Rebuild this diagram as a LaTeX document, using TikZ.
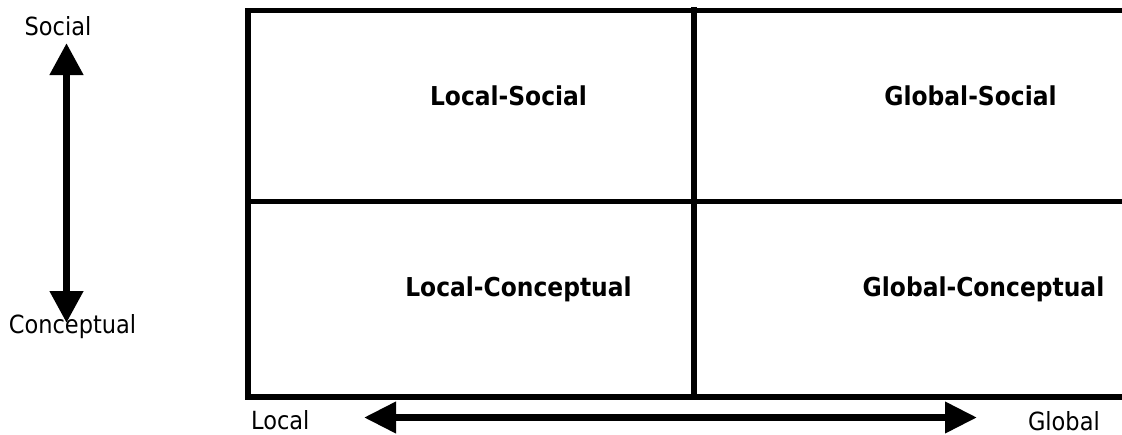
\documentclass[tikz,border=0pt]{standalone}
\usepackage{fontspec}
\setmainfont{DejaVu Sans Condensed}
\usetikzlibrary{arrows.meta}

\begin{document}
\begin{tikzpicture}
  [x=1pt,y=-1pt,
   grid/.style={line width=5.5pt},
   axis/.style={line width=7.5pt,
     {Triangle[length=32pt,width=32pt]}-{Triangle[length=32pt,width=32pt]}},
   cell/.style={font=\bfseries\fontsize{26}{30}\selectfont,inner sep=0pt,anchor=base},
   axlabel/.style={font=\fontsize{25}{30}\selectfont,inner sep=0pt,anchor=base}]
  \useasboundingbox (0,0) rectangle (1122,434);

  % the four quadrants
  \draw[grid] (1122,10.5) -- (248,10.5) -- (248,397) -- (1122,397);
  \draw[grid] (248,201.5) -- (1122,201.5);
  \draw[grid] (694,7) -- (694,397);

  \node[cell] (locsoc) at (508.5,105) {Local-Social};
  \node[cell] (globsoc) at (970.5,105) {Global-Social};
  \node[cell] (loccon) at (518.5,296) {Local-Conceptual};
  \node[cell] (globcon) at (983.5,296) {Global-Conceptual};

  % vertical axis
  \coordinate (socend) at (66.5,43);
  \coordinate (conend) at (66.5,323);
  \draw[axis] (conend) -- (socend);
  \node[axlabel] (social) at (58,35) {Social};
  \node[axlabel] (conceptual) at (72.5,333) {Conceptual};

  % horizontal axis
  \coordinate (locend) at (364,417.5);
  \coordinate (globend) at (977,417.5);
  \draw[axis,line width=7pt,
    {Triangle[length=32pt,width=30pt]}-{Triangle[length=32pt,width=30pt]}] (locend) -- (globend);
  \node[axlabel,anchor=base west] (local) at (251,429) {Local};
  \node[axlabel,anchor=base east] (global) at (1100,430) {Global};
\end{tikzpicture}
\end{document}
